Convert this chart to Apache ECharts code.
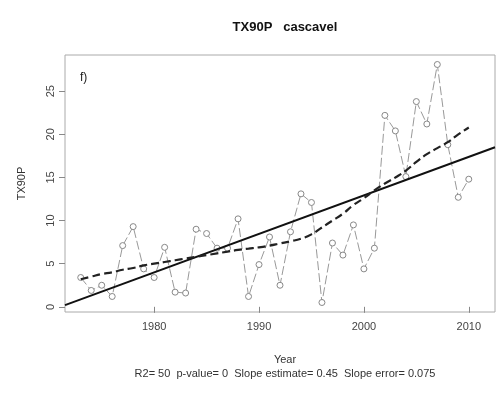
<!DOCTYPE html>
<html>
<head>
<meta charset="utf-8">
<script src="https://cdn.jsdelivr.net/npm/echarts@6/dist/echarts.min.js"></script>
<style>
html,body{margin:0;padding:0;background:#fff;}
#chart{width:502px;height:394px;}
</style>
</head>
<body>
<div id="chart"></div>
<script>
// Data
const years = [1973,1974,1975,1976,1977,1978,1979,1980,1981,1982,1983,1984,1985,1986,1987,1988,1989,1990,1991,1992,1993,1994,1995,1996,1997,1998,1999,2000,2001,2002,2003,2004,2005,2006,2007,2008,2009,2010];
const tx90p = [3.4,1.9,2.5,1.2,7.1,9.3,4.4,3.4,6.9,1.7,1.6,9.0,8.5,6.8,6.8,10.2,1.2,4.9,8.1,2.5,8.7,13.1,12.1,0.5,7.4,6.0,9.5,4.4,6.8,22.2,20.4,15.1,23.8,21.2,28.1,18.8,12.7,14.8];
const loess = [3.2,3.5,3.8,4.0,4.3,4.5,4.8,5.0,5.2,5.4,5.6,5.8,6.0,6.2,6.4,6.6,6.75,6.9,7.1,7.35,7.6,7.9,8.4,9.2,10.0,10.8,11.8,12.6,13.5,14.3,15.0,15.8,16.8,17.7,18.4,19.1,20.0,20.8];
const trendYears = [1971.5, 2012.5];
const trendValues = [0.2, 18.5];
const xTicks = [1980,1990,2000,2010];
const yTicks = [0,5,10,15,20,25];
const titleText = 'TX90P   cascavel';
const xName = 'Year';
const yName = 'TX90P';
const statsText = 'R2= 50  p-value= 0  Slope estimate= 0.45  Slope error= 0.075';

const pts = years.map((y,i)=>[y,tx90p[i]]);
const lo = years.map((y,i)=>[y,loess[i]]);
const tr = trendYears.map((y,i)=>[y,trendValues[i]]);

const FONT = 'Liberation Sans, Arial, sans-serif';
const chart = echarts.init(document.getElementById('chart'), null, {renderer:'canvas'});
chart.setOption({
  backgroundColor:'#fff',
  animation:false,
  title:[
    {text:titleText, left:280, top:16, textAlign:'center',
     textStyle:{fontFamily:FONT,fontSize:13,fontWeight:'bold',color:'#111'}},
    {text:xName, left:280, top:349, textAlign:'center',
     textStyle:{fontFamily:FONT,fontSize:11,fontWeight:'normal',color:'#333'}},
    {text:statsText, left:280, top:363, textAlign:'center',
     textStyle:{fontFamily:FONT,fontSize:11,fontWeight:'normal',color:'#333'}}
  ],
  graphic:[{type:'text', left:80, top:72, style:{text:'f)', font:'12px '+FONT, fill:'#222'}}],
  grid:{left:65,right:7,top:55,bottom:82,show:true,borderColor:'#aaa',borderWidth:1,backgroundColor:'#fff'},
  xAxis:{
    type:'value', min:1971.5, max:2012.5,
    splitLine:{show:false},
    axisLine:{show:false},
    axisTick:{show:true,customValues:xTicks,length:6,inside:false,lineStyle:{color:'#888'}},
    axisLabel:{customValues:xTicks,formatter:v=>String(v),fontFamily:FONT,fontSize:11,color:'#444',margin:9}
  },
  yAxis:{
    type:'value', min:-0.6, max:29.2,
    name:yName, nameLocation:'middle', nameGap:38, nameRotate:90,
    nameTextStyle:{fontFamily:FONT,fontSize:11,color:'#333'},
    splitLine:{show:false},
    axisLine:{show:false},
    axisTick:{show:true,customValues:yTicks,length:6,lineStyle:{color:'#888'}},
    axisLabel:{customValues:yTicks,rotate:90,fontFamily:FONT,fontSize:11,color:'#444',margin:9}
  },
  series:[
    {type:'line', data:pts, symbol:'circle', symbolSize:6, showSymbol:true,
     lineStyle:{color:'#999',width:1,type:[9,3]},
     itemStyle:{color:'#fff',borderColor:'#888',borderWidth:1},
     emphasis:{disabled:true}, z:2},
    {type:'line', data:tr, symbol:'none', lineStyle:{color:'#111',width:2}, z:3},
    {type:'line', data:lo, symbol:'none', smooth:true, lineStyle:{color:'#222',width:2.2,type:[8,4]}, z:4}
  ]
});
</script>
</body>
</html>
